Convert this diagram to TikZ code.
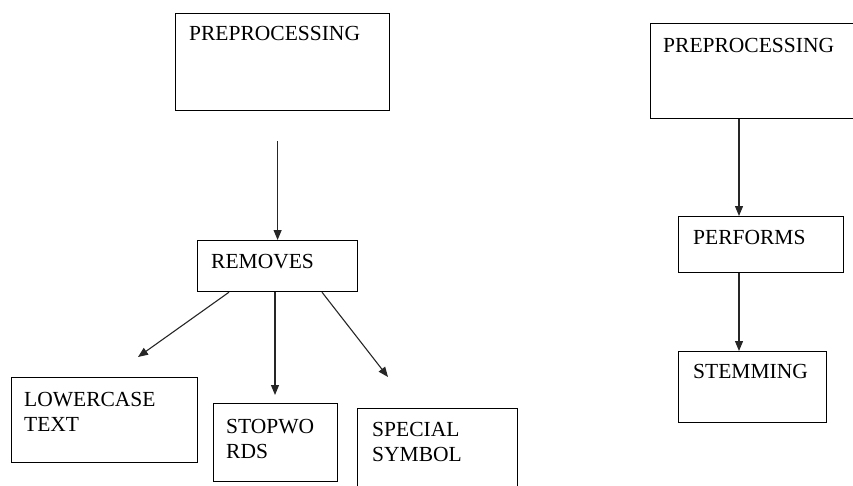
\documentclass[tikz,border=0pt]{standalone}
\usepackage{fontspec}
\setmainfont{Liberation Serif}
\usetikzlibrary{arrows.meta}
\begin{document}
\begin{tikzpicture}[x=1pt,y=-1pt,
  box/.style={draw=black, line width=1.2pt, anchor=north west, inner sep=0pt},
  lbl/.style={anchor=base west, inner sep=0pt, font=\fontsize{21.5}{25}\selectfont},
  arr/.style={draw=black!85, line width=1.1pt, -{Triangle[length=10pt,width=8pt]}}]
\useasboundingbox (0,0) rectangle (853,485);
% left diagram boxes
\node[box, minimum width=214pt, minimum height=97pt] (pre1) at (175,13) {};
\node[box, minimum width=160pt, minimum height=51pt] (rem) at (197,240) {};
\node[box, minimum width=186pt, minimum height=85pt] (low) at (11,377) {};
\node[box, minimum width=124pt, minimum height=78pt] (stop) at (213,403) {};
\node[box, minimum width=160pt, minimum height=90pt] (spec) at (357,408) {};
% right diagram boxes
\node[box, minimum width=220pt, minimum height=95pt] (pre2) at (650,23) {};
\node[box, minimum width=165pt, minimum height=56pt] (perf) at (678,216) {};
\node[box, minimum width=148pt, minimum height=71pt] (stem) at (678,351) {};
% labels
\node[lbl] (tpre1) at (189,40) {PREPROCESSING};
\node[lbl] (trem) at (211,268) {REMOVES};
\node[lbl] (tlow) at (24,406) {\begin{tabular}[t]{@{}l@{}}LOWERCASE\\TEXT\end{tabular}};
\node[lbl] (tstop) at (226,433) {\begin{tabular}[t]{@{}l@{}}STOPWO\\RDS\end{tabular}};
\node[lbl] (tspec) at (372,436) {\begin{tabular}[t]{@{}l@{}}SPECIAL\\SYMBOL\end{tabular}};
\node[lbl] (tpre2) at (663,52) {PREPROCESSING};
\node[lbl] (tperf) at (693,244) {PERFORMS};
\node[lbl] (tstem) at (693,378) {STEMMING};
% connector end points
\coordinate (e1) at (138,357);
\coordinate (e2) at (275,395);
\coordinate (e3) at (388,377);
\coordinate (px) at ([xshift=61pt]perf.north west);
\coordinate (sx) at ([xshift=61pt]stem.north west);
% connectors
\draw[arr, shorten <=30pt] (rem.north |- pre1.south) -- (rem.north);
\draw[arr] ([xshift=32pt]rem.south west) -- (e1);
\draw[arr] ([xshift=78pt]rem.south west) -- (e2);
\draw[arr] ([xshift=125pt]rem.south west) -- (e3);
\draw[arr] (px |- pre2.south) -- (px);
\draw[arr] (sx |- perf.south) -- (sx);
\end{tikzpicture}
\end{document}
